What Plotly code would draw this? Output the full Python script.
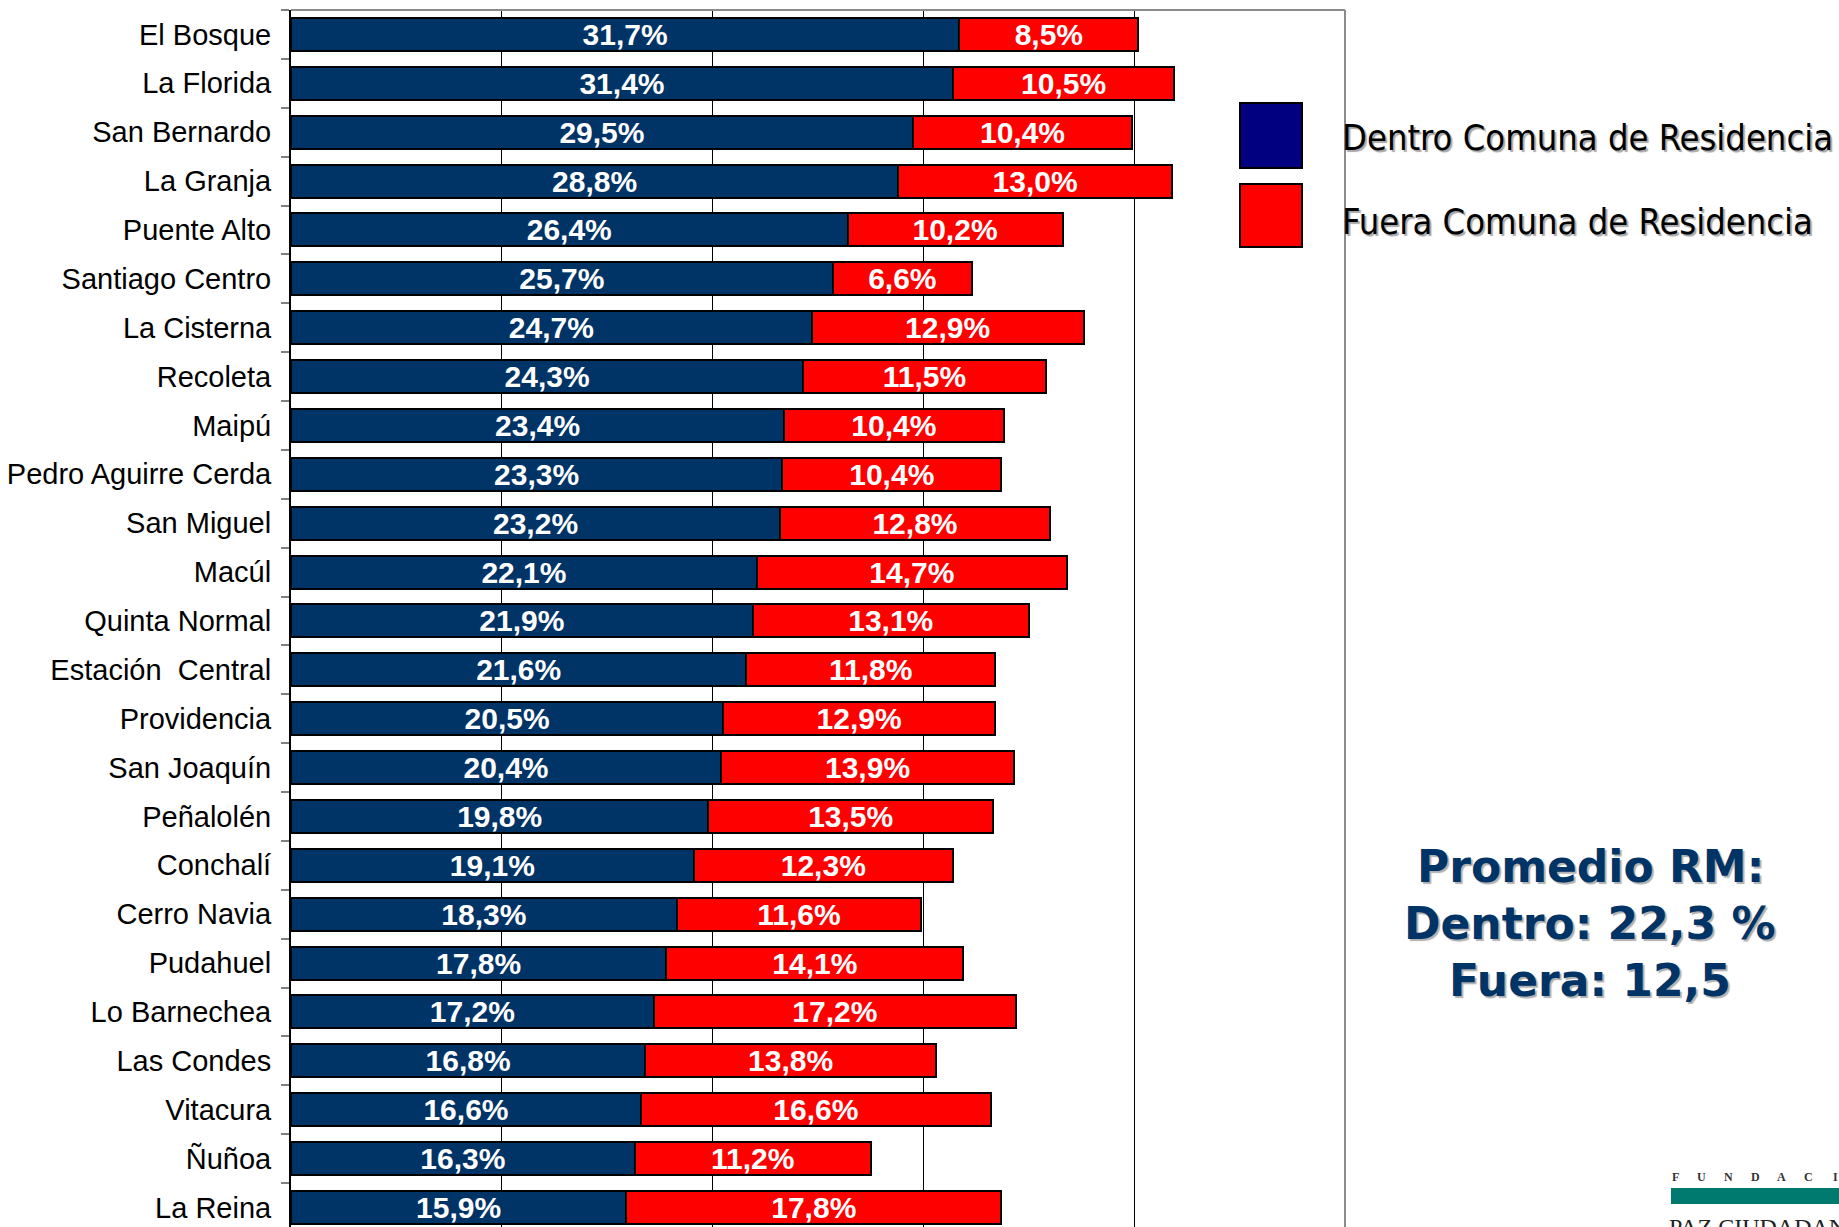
import plotly.graph_objects as go

comunas = ["El Bosque", "La Florida", "San Bernardo", "La Granja", "Puente Alto",
           "Santiago Centro", "La Cisterna", "Recoleta", "Maipú", "Pedro Aguirre Cerda",
           "San Miguel", "Macúl", "Quinta Normal", "Estación  Central", "Providencia",
           "San Joaquín", "Peñalolén", "Conchalí", "Cerro Navia", "Pudahuel",
           "Lo Barnechea", "Las Condes", "Vitacura", "Ñuñoa", "La Reina"]
dentro = [31.7, 31.4, 29.5, 28.8, 26.4, 25.7, 24.7, 24.3, 23.4, 23.3, 23.2, 22.1, 21.9,
          21.6, 20.5, 20.4, 19.8, 19.1, 18.3, 17.8, 17.2, 16.8, 16.6, 16.3, 15.9]
fuera = [8.5, 10.5, 10.4, 13.0, 10.2, 6.6, 12.9, 11.5, 10.4, 10.4, 12.8, 14.7, 13.1,
         11.8, 12.9, 13.9, 13.5, 12.3, 11.6, 14.1, 17.2, 13.8, 16.6, 11.2, 17.8]
serie_nombres = ["Dentro Comuna de Residencia", "Fuera Comuna de Residencia"]
promedio_lineas = ["Promedio RM:", "Dentro: 22,3 %", "Fuera: 12,5"]
logo_letras = list("FUNDACI")

W, H = 1839, 1227
L, R, T, B = 291, 1345, 10, 1227

BAR_FONT = dict(family="Liberation Sans, Arial, sans-serif", size=30, color="white")

fig = go.Figure()
fig.add_trace(go.Bar(
    y=comunas, x=dentro, orientation="h", name=serie_nombres[0],
    marker=dict(color="#003366", line=dict(color="black", width=2)),
    texttemplate="<b>%{x:.1f}%</b>", textposition="inside", insidetextanchor="middle",
    textangle=0, textfont=BAR_FONT, constraintext="none", showlegend=False,
))
fig.add_trace(go.Bar(
    y=comunas, x=fuera, orientation="h", name=serie_nombres[1],
    marker=dict(color="#FF0000", line=dict(color="black", width=2)),
    texttemplate="<b>%{x:.1f}%</b>", textposition="inside", insidetextanchor="middle",
    textangle=0, textfont=BAR_FONT, constraintext="none", showlegend=False,
))

n = len(comunas)
pw = R - L
ph = B - T

def px(x):
    return (x - L) / pw

def py(y):
    return 1 - (y - T) / ph

shapes = [
    dict(type="line", xref="paper", yref="paper", x0=0, x1=1, y0=1, y1=1,
         line=dict(color="#8c8c8c", width=2)),
    dict(type="line", xref="paper", yref="paper", x0=1, x1=1, y0=0, y1=1,
         line=dict(color="#8c8c8c", width=2)),
    dict(type="rect", xref="paper", yref="paper", x0=px(1240), x1=px(1302),
         y0=py(168), y1=py(103), fillcolor="#000080", line=dict(color="black", width=2)),
    dict(type="rect", xref="paper", yref="paper", x0=px(1240), x1=px(1302),
         y0=py(247), y1=py(184), fillcolor="#FF0000", line=dict(color="black", width=2)),
    dict(type="rect", xref="paper", yref="paper", x0=px(1671), x1=px(1850),
         y0=py(1204), y1=py(1188), fillcolor="#007A6E", line=dict(width=0)),
]

annotations = []
LEG_FONT = dict(family="DejaVu Sans Condensed, DejaVu Sans, sans-serif", size=36,
                color="black", shadow="2px 2px 1px #a8a8a8")
for txt, yc in zip(serie_nombres, [137, 222]):
    annotations.append(dict(xref="paper", yref="paper", x=px(1340), y=py(yc),
                            xanchor="left", yanchor="middle", showarrow=False,
                            text=txt, font=LEG_FONT))
PROM_FONT = dict(family="DejaVu Sans, Verdana, sans-serif", size=44, color="#003366",
                 shadow="2px 2px 1px #b0b0b0")
for txt, yc in zip(promedio_lineas, [866, 923, 980]):
    annotations.append(dict(xref="paper", yref="paper", x=px(1590), y=py(yc),
                            xanchor="center", yanchor="middle", showarrow=False,
                            text="<b>" + txt + "</b>", font=PROM_FONT))
for i, letra in enumerate(logo_letras):
    annotations.append(dict(xref="paper", yref="paper", x=px(1675 + i * 26.7), y=py(1177),
                            xanchor="center", yanchor="middle", showarrow=False,
                            text="<b>" + letra + "</b>",
                            font=dict(family="Liberation Serif, serif", size=12, color="#333")))
annotations.append(dict(xref="paper", yref="paper", x=px(1667), y=py(1212),
                        xanchor="left", yanchor="top", showarrow=False,
                        text="PAZ CIUDADANA",
                        font=dict(family="Liberation Serif, serif", size=24, color="#222")))

fig.update_layout(
    width=W, height=H,
    margin=dict(l=L, r=W - R, t=T, b=H - B, pad=0),
    barmode="stack", bargap=0.325,
    separators=",.",
    plot_bgcolor="white", paper_bgcolor="white",
    shapes=shapes, annotations=annotations,
    xaxis=dict(range=[0, 50], dtick=10, showgrid=True, gridcolor="black", gridwidth=1,
               showticklabels=False, zeroline=False, showline=False, ticks=""),
    yaxis=dict(categoryorder="array", categoryarray=comunas,
               range=[n - 0.6, -0.5], showline=True, linecolor="black", linewidth=2,
               ticks="outside", tickson="boundaries", ticklen=8, tickcolor="#808080",
               tickwidth=2, showgrid=False, ticklabelstandoff=12,
               tickfont=dict(family="Liberation Sans, Arial, sans-serif", size=29, color="black")),
)

fig.write_html("out.html", config={"displayModeBar": False},
               post_script="document.body.style.margin='0';document.body.style.overflow='hidden';")
